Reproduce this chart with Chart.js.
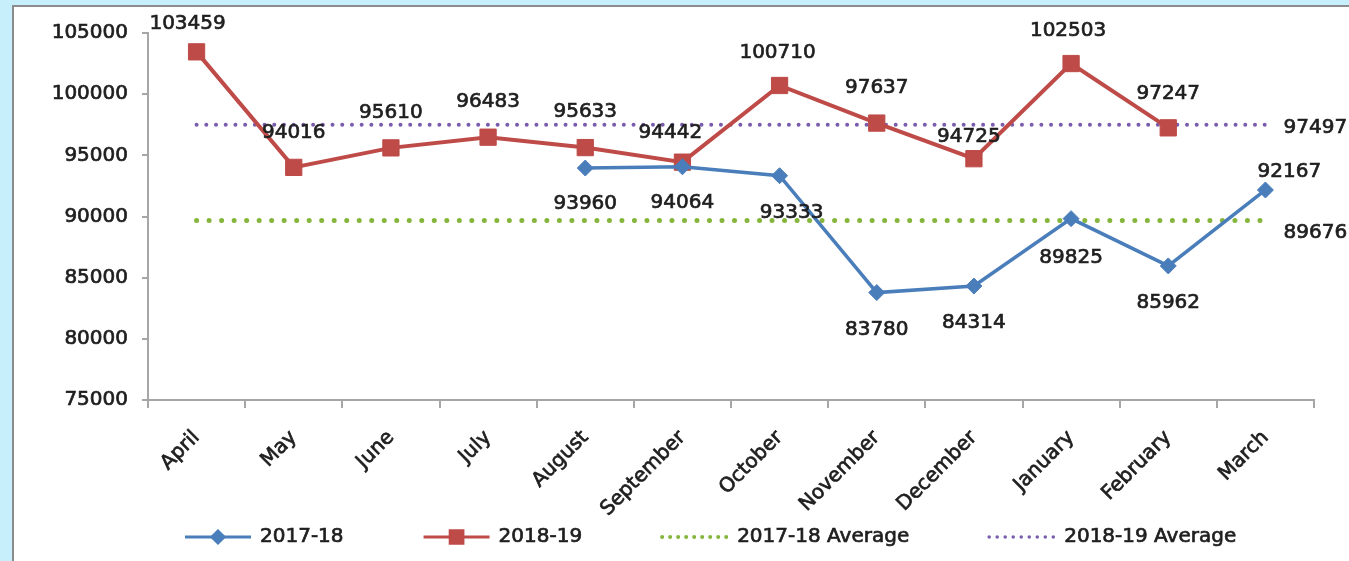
<!DOCTYPE html>
<html>
<head>
<meta charset="utf-8">
<script src="https://cdn.jsdelivr.net/npm/chart.js@4.4.1/dist/chart.umd.min.js"></script>
<style>
  html, body { margin: 0; padding: 0; width: 1349px; height: 561px; overflow: hidden; background: #c6effb; }
  #panel {
    position: absolute; left: 12px; top: 5px; width: 1337px; height: 556px;
    background: #fff; border-left: 2px solid #8c8c8c; border-top: 2px solid #8c8c8c;
    box-sizing: border-box;
  }
  #wrap { position: absolute; left: 0; top: 0; width: 1335px; height: 554px; }
</style>
</head>
<body>
<div id="panel"><div id="wrap"><canvas id="chart"></canvas></div></div>
<script>
'use strict';

/* ── data ───────────────────────────────────────────── */
const months = ['April', 'May', 'June', 'July', 'August', 'September', 'October',
                'November', 'December', 'January', 'February', 'March'];
const values1718 = [null, null, null, null, 93960, 94064, 93333, 83780, 84314, 89825, 85962, 92167];
const values1819 = [103459, 94016, 95610, 96483, 95633, 94442, 100710, 97637, 94725, 102503, 97247, null];
const avg1718 = [89676, 89676, 89676, 89676, 89676, 89676, 89676, 89676, 89676, 89676, 89676, 89676];
const avg1819 = [97497, 97497, 97497, 97497, 97497, 97497, 97497, 97497, 97497, 97497, 97497, 97497];
const yTicks = [75000, 80000, 85000, 90000, 95000, 100000, 105000];

/* ── label placement (dx, dy from the point) ─────────── */
const offs1718 = [null, null, null, null, [0, 36], [0, 36], [12, 37], [0, 37], [0, 37], [0, 39], [0, 37], [24, -18]];
const offs1819 = [[-9, -28], [0, -35], [0, -35], [0, -35], [0, -36], [-12, -29], [-2, -33], [0, -35], [-5, -22], [-3, -33], [0, -34], null];
const offsAvg1718 = [null, null, null, null, null, null, null, null, null, null, null, [50, 12]];
const offsAvg1819 = [null, null, null, null, null, null, null, null, null, null, null, [50, 3]];

const FONT = '"DejaVu Sans", sans-serif';
const TXT = '#1e1e1e';
const AXIS = '#a6a6a6';
const HEAVY = 0.7;   // faux semibold stroke round the text

const valueLabels = {
    id: 'valueLabels',
    afterDatasetsDraw(chart) {
        const ctx = chart.ctx;
        ctx.save();
        ctx.font = '20px ' + FONT;
        ctx.fillStyle = TXT;
        ctx.strokeStyle = TXT;
        ctx.lineWidth = HEAVY;
        ctx.textAlign = 'center';
        ctx.textBaseline = 'middle';
        chart.data.datasets.forEach((ds, i) => {
            const meta = chart.getDatasetMeta(i);
            meta.data.forEach((pt, j) => {
                const o = ds.labelOffsets[j];
                if (!o || ds.data[j] == null) return;
                const s = String(ds.data[j]);
                ctx.strokeText(s, pt.x + o[0], pt.y + o[1]);
                ctx.fillText(s, pt.x + o[0], pt.y + o[1]);
            });
        });
        ctx.restore();
    }
};

const bottomLegend = {
    id: 'bottomLegend',
    afterDraw(chart) {
        const ctx = chart.ctx;
        const y = 530;
        let x = 171;
        ctx.save();
        ctx.font = '20px ' + FONT;
        ctx.textBaseline = 'middle';
        ctx.textAlign = 'left';
        chart.data.datasets.forEach(ds => {
            ctx.save();
            ctx.strokeStyle = ds.borderColor;
            ctx.fillStyle = ds.borderColor;
            ctx.lineWidth = ds.legendLineWidth;
            ctx.lineCap = ds.borderDash ? 'round' : 'butt';
            ctx.setLineDash(ds.borderDash ? ds.legendDash : []);
            ctx.beginPath();
            ctx.moveTo(x, y);
            ctx.lineTo(x + 66, y);
            ctx.stroke();
            ctx.setLineDash([]);
            if (ds.legendMarker) {
                Chart.helpers.drawPoint(ctx, {
                    pointStyle: ds.pointStyle, radius: ds.legendMarker, rotation: 0, borderWidth: 1
                }, x + 33, y);
            }
            ctx.restore();
            ctx.fillStyle = TXT;
            ctx.strokeStyle = TXT;
            ctx.lineWidth = HEAVY;
            ctx.strokeText(ds.label, x + 75, y);
            ctx.fillText(ds.label, x + 75, y);
            x += 75 + ctx.measureText(ds.label).width + 80;
        });
        ctx.restore();
    }
};

new Chart(document.getElementById('chart'), {
    type: 'line',
    data: {
        labels: months,
        datasets: [
            {
                label: '2017-18',
                data: values1718,
                borderColor: '#4a7ebb',
                backgroundColor: '#4a7ebb',
                borderWidth: 3.5,
                pointStyle: 'rectRot',
                pointRadius: 8,
                pointBorderWidth: 1,
                labelOffsets: offs1718,
                legendLineWidth: 3,
                legendMarker: 6
            },
            {
                label: '2018-19',
                data: values1819,
                borderColor: '#be4b48',
                backgroundColor: '#be4b48',
                borderWidth: 4,
                pointStyle: 'rect',
                pointRadius: 11.5,
                pointBorderWidth: 1,
                labelOffsets: offs1819,
                legendLineWidth: 3,
                legendMarker: 9
            },
            {
                label: '2017-18 Average',
                data: avg1718,
                borderColor: '#85b53a',
                borderWidth: 5,
                borderDash: [0.01, 12.5],
                borderCapStyle: 'round',
                pointRadius: 0,
                labelOffsets: offsAvg1718,
                legendLineWidth: 4,
                legendDash: [0.01, 8]
            },
            {
                label: '2018-19 Average',
                data: avg1819,
                borderColor: '#7a5cae',
                borderWidth: 4,
                borderDash: [0.01, 9.7],
                borderCapStyle: 'round',
                pointRadius: 0,
                labelOffsets: offsAvg1819,
                legendLineWidth: 3.5,
                legendDash: [0.01, 8]
            }
        ]
    },
    options: {
        responsive: true,
        maintainAspectRatio: false,
        animation: false,
        events: [],
        layout: { padding: { top: 26, right: 35, left: 0, bottom: 0 } },
        plugins: {
            legend: { display: false },
            tooltip: { enabled: false }
        },
        scales: {
            x: {
                offset: true,
                afterFit: s => { s.height = 161; },
                grid: { drawOnChartArea: false, offset: true, tickLength: 8, color: AXIS, lineWidth: 2 },
                border: { display: true, color: AXIS, width: 2 },
                ticks: {
                    autoSkip: false, maxRotation: 45, minRotation: 45, padding: 18,
                    color: TXT, textStrokeColor: TXT, textStrokeWidth: HEAVY,
                    font: { family: FONT, size: 20 }
                }
            },
            y: {
                min: 75000,
                max: 105000,
                afterFit: s => { s.width = 134; },
                afterBuildTicks: s => { s.ticks = yTicks.map(v => ({ value: v })); },
                grid: { drawOnChartArea: false, tickLength: 6, color: AXIS, lineWidth: 2 },
                border: { display: true, color: AXIS, width: 2 },
                ticks: {
                    padding: 14, color: TXT, textStrokeColor: TXT, textStrokeWidth: HEAVY,
                    font: { family: FONT, size: 20 },
                    callback: v => String(v)
                }
            }
        }
    },
    plugins: [valueLabels, bottomLegend]
});
</script>
</body>
</html>
